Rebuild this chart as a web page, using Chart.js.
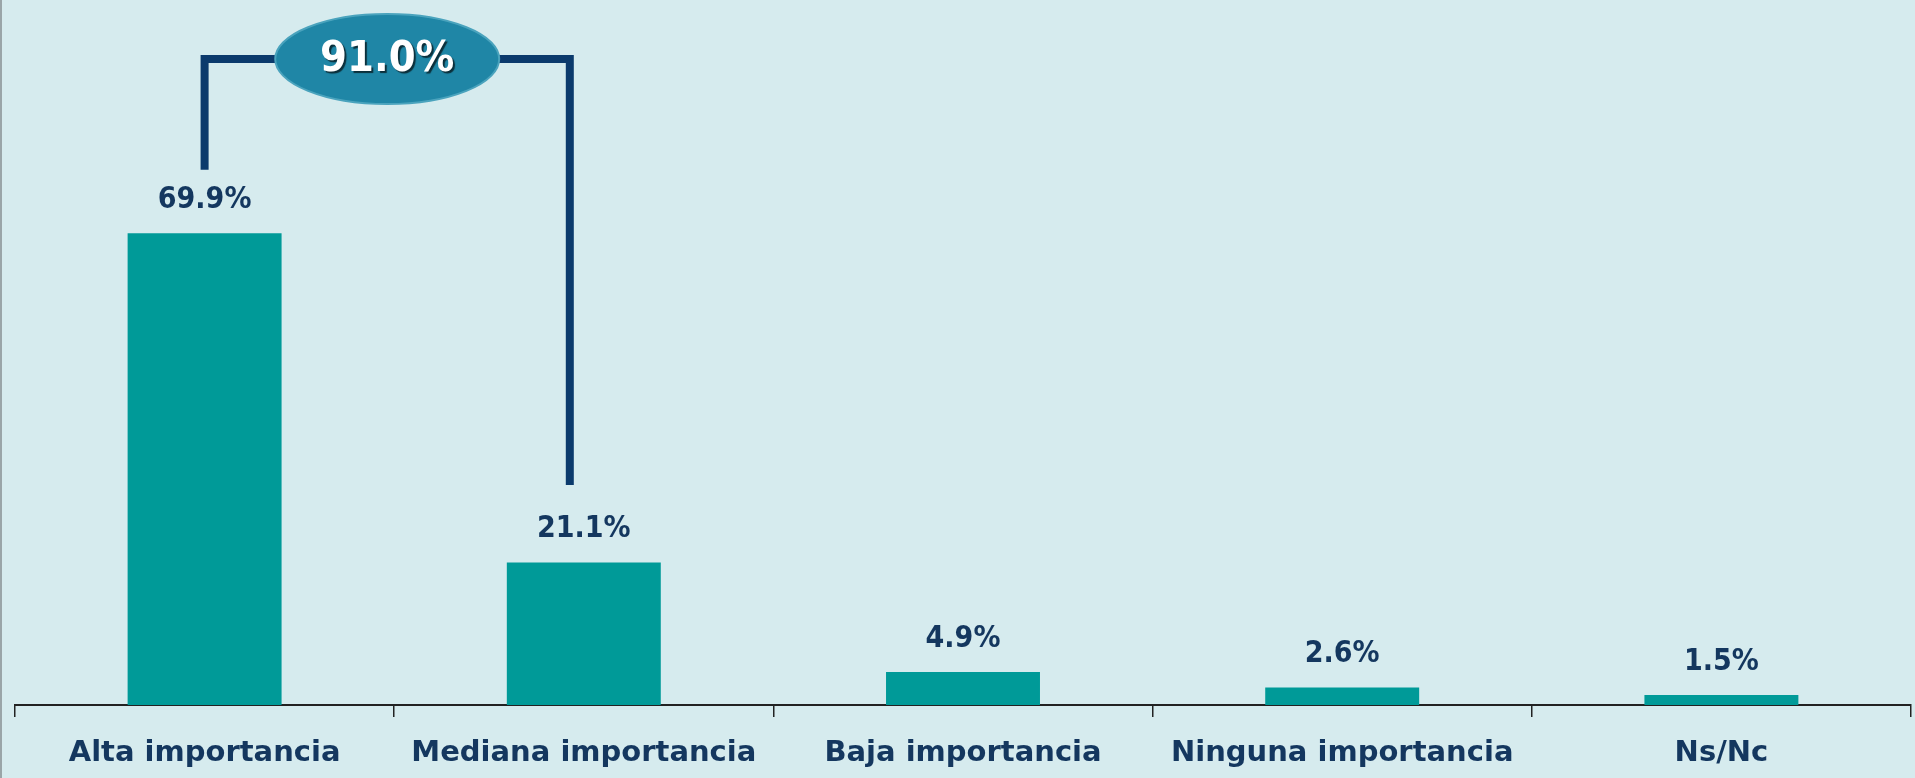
<!DOCTYPE html>
<html lang="es">
<head>
<meta charset="UTF-8" />
<title>Importancia</title>
<style>
  html, body { margin: 0; padding: 0; background: #d6ebee; overflow: hidden; }
  canvas { display: block; }
</style>
</head>
<body>
<canvas id="grafico" width="1915" height="778"></canvas>

<script src="https://cdn.jsdelivr.net/npm/chart.js"></script>
<script>
const categorias = ["Alta importancia", "Mediana importancia", "Baja importancia", "Ninguna importancia", "Ns/Nc"];
const porcentajes = [69.9, 21.1, 4.9, 2.6, 1.5];
const totalTexto = "91.0%";
// alturas (en % del eje) de la llave que junta las dos primeras barras
const nivelLlave = 95.7;
const finLlaveIzq = 79.3;
const finLlaveDer = 32.6;

const FUENTE = "'DejaVu Sans Condensed', 'DejaVu Sans', sans-serif";
const AZUL = "#14375f";

const extras = {
  id: "extras",
  beforeDraw(chart) {
    const c = chart.ctx;
    c.save();
    c.fillStyle = "#d6ebee";
    c.fillRect(0, 0, chart.width, chart.height);
    c.fillStyle = "#9aa5a8";
    c.fillRect(0, 0, 2, chart.height);
    c.restore();
  },
  afterDatasetsDraw(chart) {
    const c = chart.ctx;
    const barras = chart.getDatasetMeta(0).data;
    const y = chart.scales.y;
    c.save();

    // valores encima de las barras
    c.font = "bold 30px " + FUENTE;
    c.fillStyle = AZUL;
    c.textAlign = "center";
    c.textBaseline = "middle";
    barras.forEach((b, i) => {
      c.fillText(porcentajes[i].toFixed(1) + "%", b.x, b.y - 33);
    });

    // llave
    const yTop = y.getPixelForValue(nivelLlave);
    const xIzq = barras[0].x;
    const xDer = barras[1].x - 14;
    c.strokeStyle = "#0b3a6c";
    c.lineWidth = 8;
    c.beginPath();
    c.moveTo(xIzq, y.getPixelForValue(finLlaveIzq));
    c.lineTo(xIzq, yTop);
    c.lineTo(xDer, yTop);
    c.lineTo(xDer, y.getPixelForValue(finLlaveDer));
    c.stroke();

    // óvalo con el total
    const cx = (xIzq + xDer) / 2;
    c.fillStyle = "#1f86a6";
    c.strokeStyle = "#4aa3bd";
    c.lineWidth = 2;
    c.beginPath();
    c.ellipse(cx, yTop, 112, 45, 0, 0, Math.PI * 2);
    c.fill();
    c.stroke();

    c.font = "bold 43px " + FUENTE;
    c.fillStyle = "#ffffff";
    c.shadowColor = "rgba(0,0,0,0.65)";
    c.shadowOffsetX = 2;
    c.shadowOffsetY = 2;
    c.shadowBlur = 1;
    c.fillText(totalTexto, cx, yTop + 1);
    c.restore();
  }
};

new Chart(document.getElementById("grafico"), {
  type: "bar",
  data: {
    labels: categorias,
    datasets: [{
      data: porcentajes,
      backgroundColor: "#009a98",
      barPercentage: 0.5,
      categoryPercentage: 0.812
    }]
  },
  options: {
    responsive: false,
    animation: false,
    layout: { padding: { left: 15, right: 4, top: 30, bottom: 0 } },
    plugins: {
      legend: { display: false },
      tooltip: { enabled: false }
    },
    scales: {
      x: {
        offset: true,
        grid: { offset: true, drawOnChartArea: false, tickLength: 12, color: "#222", lineWidth: 1.5 },
        border: { display: true, color: "#222", width: 2 },
        ticks: {
          color: AZUL,
          font: { family: "'DejaVu Sans', sans-serif", size: 29, weight: "bold" },
          padding: 19,
          maxRotation: 0,
          autoSkip: false
        },
        afterFit(scale) { scale.height = 73; }
      },
      y: { display: false, min: 0, max: 100 }
    }
  },
  plugins: [extras]
});
</script>
</body>
</html>
